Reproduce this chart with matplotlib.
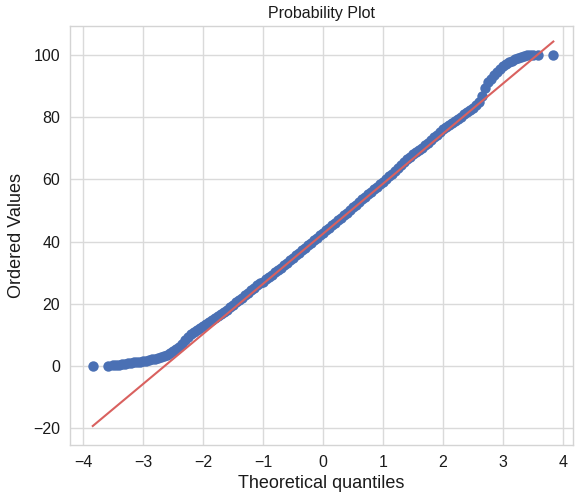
import matplotlib
matplotlib.use('Agg')
import matplotlib.pyplot as plt

# Data
theoretical_quantiles = [
    -3.84, -3.59, -3.50, -3.45, -3.40, -3.35, -3.30, -3.25, -3.20, -3.15, -3.10, -3.05,
    -3.00, -2.95, -2.90, -2.85, -2.80, -2.75, -2.70, -2.65, -2.60, -2.55, -2.50, -2.45,
    -2.40, -2.35, -2.30, -2.25, -2.20, -2.15, -2.10, -2.05, -2.00, -1.95, -1.90, -1.85,
    -1.80, -1.75, -1.70, -1.65, -1.60, -1.55, -1.50, -1.45, -1.40, -1.35, -1.30, -1.25,
    -1.20, -1.15, -1.10, -1.05, -1.00, -0.95, -0.90, -0.85, -0.80, -0.75, -0.70, -0.65,
    -0.60, -0.55, -0.50, -0.45, -0.40, -0.35, -0.30, -0.25, -0.20, -0.15, -0.10, -0.05,
    0.00, 0.05, 0.10, 0.15, 0.20, 0.25, 0.30, 0.35, 0.40, 0.45, 0.50, 0.55,
    0.60, 0.65, 0.70, 0.75, 0.80, 0.85, 0.90, 0.95, 1.00, 1.05, 1.10, 1.15,
    1.20, 1.25, 1.30, 1.35, 1.40, 1.45, 1.50, 1.55, 1.60, 1.65, 1.70, 1.75,
    1.80, 1.85, 1.90, 1.95, 2.00, 2.05, 2.10, 2.15, 2.20, 2.25, 2.30, 2.35,
    2.40, 2.45, 2.50, 2.55, 2.60, 2.65, 2.70, 2.75, 2.80, 2.85, 2.90, 2.95,
    3.00, 3.05, 3.10, 3.15, 3.20, 3.25, 3.30, 3.35, 3.40, 3.45, 3.50, 3.59, 3.84,
]
ordered_values = [
    0.0, 0.0, 0.2, 0.3, 0.4, 0.5, 0.7, 0.9, 1.0, 1.2, 1.3, 1.4,
    1.5, 1.7, 1.9, 2.1, 2.3, 2.6, 2.9, 3.2, 3.6, 4.2, 4.8, 5.4,
    6.2, 7.2, 8.3, 9.4, 10.3, 11.0, 11.7, 12.3, 12.9, 13.5, 14.1, 14.7,
    15.3, 16.0, 16.7, 17.4, 18.1, 18.9, 19.6, 20.4, 21.2, 22.0, 22.7, 23.5,
    24.3, 25.1, 25.9, 26.6, 27.0, 27.8, 28.6, 29.3, 30.1, 30.9, 31.6, 32.4,
    33.2, 34.0, 34.8, 35.6, 36.4, 37.2, 38.0, 38.8, 39.6, 40.4, 41.2, 42.0,
    42.8, 43.6, 44.4, 45.2, 46.0, 46.8, 47.6, 48.4, 49.3, 50.1, 51.0, 51.9,
    52.8, 53.6, 54.4, 55.2, 56.0, 56.8, 57.6, 58.4, 59.3, 60.1, 61.0, 61.8,
    62.7, 63.6, 64.6, 65.5, 66.5, 67.3, 68.0, 68.7, 69.4, 70.1, 70.9, 71.7,
    72.6, 73.5, 74.4, 75.3, 76.1, 76.8, 77.5, 78.1, 78.8, 79.5, 80.2, 80.9,
    81.7, 82.4, 83.1, 83.8, 84.8, 86.8, 89.5, 91.2, 92.4, 93.6, 94.6, 95.5,
    96.3, 97.0, 97.6, 98.1, 98.6, 99.0, 99.4, 99.7, 100.0, 100.0, 100.0, 100.0, 100.0,
]
fit_slope = 16.1
fit_intercept = 42.5

x_ticks = [-4, -3, -2, -1, 0, 1, 2, 3, 4]
y_ticks = [-20, 0, 20, 40, 60, 80, 100]

plt.rcParams['font.family'] = ['Liberation Sans', 'DejaVu Sans']

fig = plt.figure(figsize=(5.76, 5.01), dpi=100)
ax = fig.add_axes([0.1215, 0.112, 0.8735, 0.836])
ax.set_facecolor('white')

ax.plot(theoretical_quantiles, ordered_values, 'o', color='#4a70b4',
        markersize=7.5, markeredgewidth=0, zorder=2)
xs = [min(theoretical_quantiles), max(theoretical_quantiles)]
ax.plot(xs, [fit_intercept + fit_slope * x for x in xs], '-', color='#d9615f',
        linewidth=1.5, zorder=3)

ax.set_xlim(-4.22, 4.17)
ax.set_ylim(-25.4, 109.3)
ax.set_xticks(x_ticks)
ax.set_yticks(y_ticks)
ax.grid(True, color='#dadada', linewidth=1.0)
ax.set_axisbelow(True)
for s in ax.spines.values():
    s.set_color('#d4d4d4')
    s.set_linewidth(1.0)
ax.tick_params(length=0, labelsize=11.5, colors='#1a1a1a', pad=7)

ax.set_title('Probability Plot', fontsize=11.5, color='#1a1a1a', pad=6)
ax.set_xlabel('Theoretical quantiles', fontsize=13, color='#1a1a1a', labelpad=4)
ax.set_ylabel('Ordered Values', fontsize=13, color='#1a1a1a', labelpad=6)

fig.savefig('out.png', dpi=100)
